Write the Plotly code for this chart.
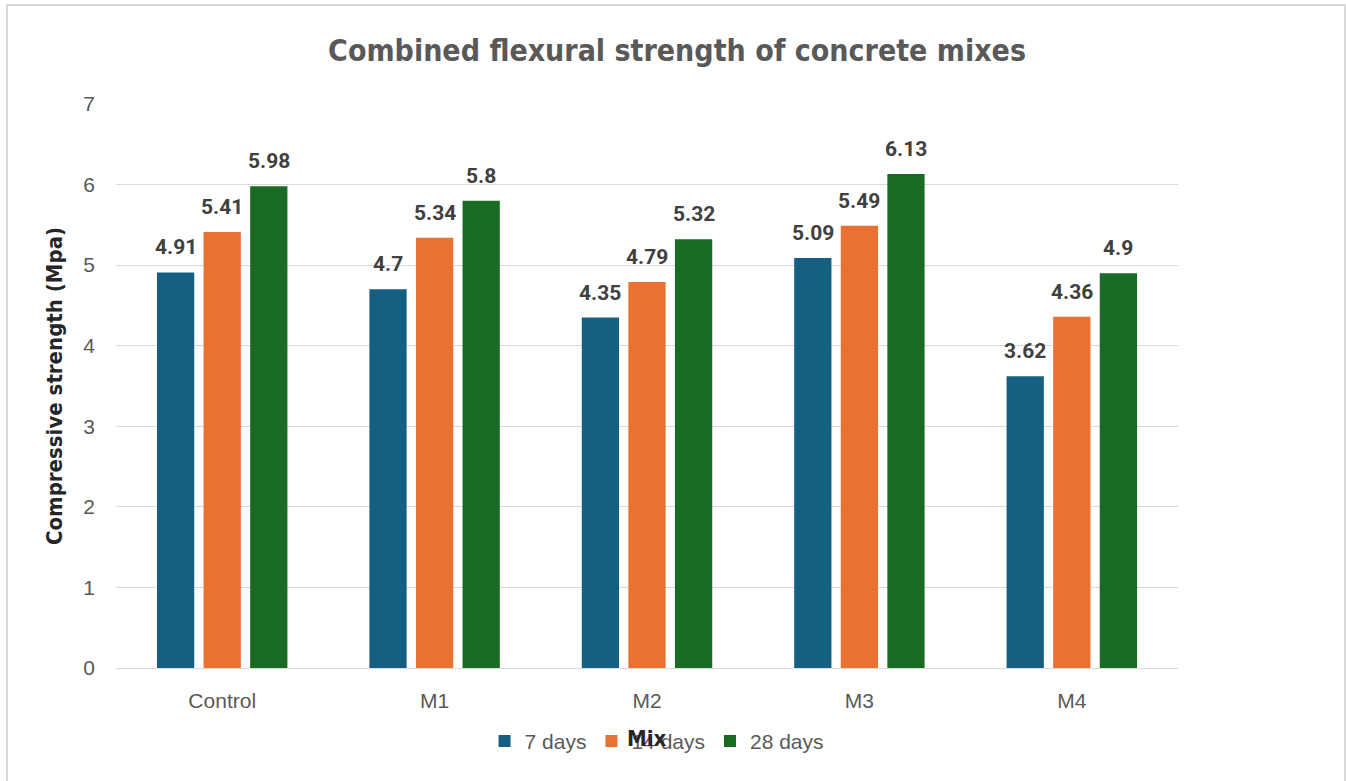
import plotly.graph_objects as go

mixes = ["Control", "M1", "M2", "M3", "M4"]
days7 = [4.91, 4.7, 4.35, 5.09, 3.62]
days14 = [5.41, 5.34, 4.79, 5.49, 4.36]
days28 = [5.98, 5.8, 5.32, 6.13, 4.9]
series_names = ["7 days", "14 days", "28 days"]
colors = ["#156082", "#E97132", "#196B24"]

narrow = "Liberation Sans Narrow, DejaVu Sans Condensed, Arial Narrow, sans-serif"
plain = "Liberation Sans, Arial, sans-serif"

W, H = 1346, 781
M_L, M_R, M_T, M_B = 116, 168, 104, 113
BARGAP, GROUPGAP = 0.342, 0.2

fig = go.Figure()
for name, vals, col in zip(series_names, [days7, days14, days28], colors):
    fig.add_trace(go.Bar(
        x=mixes, y=vals, name=name, marker_color=col, marker_line_width=0,
    ))

# value labels above each bar, offset sideways to its slot in the group
plot_w = W - M_L - M_R
slot_px = plot_w / len(mixes) * (1 - BARGAP) / len(series_names)
for i, vals in enumerate([days7, days14, days28]):
    for m, v in zip(mixes, vals):
        fig.add_annotation(
            x=m, y=v, xref="x", yref="y", text=f"<b>{v:g}</b>",
            showarrow=False, xanchor="center", yanchor="bottom",
            xshift=(i - 1) * slot_px, yshift=11,
            font=dict(family="Roboto, Liberation Sans, sans-serif", size=21,
                      color="#404040"),
        )

fig.update_layout(
    width=W, height=H,
    margin=dict(l=M_L, r=M_R, t=M_T, b=M_B),
    paper_bgcolor="white", plot_bgcolor="white",
    barmode="group", bargap=BARGAP, bargroupgap=GROUPGAP,
    title=dict(text="<b>Combined flexural strength of concrete mixes</b>",
               x=0.503, xanchor="center", xref="container", y=0.935, yanchor="middle",
               font=dict(family=narrow, size=30, color="#595959")),
    showlegend=True,
    legend=dict(orientation="h", x=0.509, xanchor="center", xref="paper",
                y=-0.13, yanchor="middle",
                font=dict(family=plain, size=21, color="#595959"),
                itemwidth=30, traceorder="normal"),
    font=dict(family=plain, color="#595959"),
)

fig.update_yaxes(
    range=[0, 7], dtick=1, showgrid=True, gridcolor="#d9d9d9", gridwidth=1,
    zeroline=True, zerolinecolor="#d9d9d9", zerolinewidth=1,
    showline=False, ticks="", ticklabelstandoff=20,
    tickfont=dict(family=plain, size=21, color="#595959"),
    title=dict(text="<b>Compressive strength (Mpa)</b>", standoff=14,
               font=dict(family=narrow, size=22, color="#262626")),
)
fig.update_xaxes(
    showline=True, linecolor="#d9d9d9", linewidth=1, ticks="", showgrid=False,
    ticklabelstandoff=14,
    tickfont=dict(family=plain, size=21, color="#595959"),
)

# "Mix" axis caption sits over the legend row
fig.add_annotation(text="<b>Mix</b>", xref="paper", yref="paper",
                   x=0.4995, y=-0.125, xanchor="center", yanchor="middle",
                   showarrow=False,
                   font=dict(family=narrow, size=22, color="#262626"))

# chart border
fig.add_shape(type="rect", xref="paper", yref="paper",
              x0=(7 - M_L) / plot_w, x1=(1345 - M_L) / plot_w,
              y0=(668 - 790) / 564, y1=(668 - 5) / 564,
              line=dict(color="#d9d9d9", width=2), fillcolor="rgba(0,0,0,0)",
              layer="below")

fig.write_html("out.html")
